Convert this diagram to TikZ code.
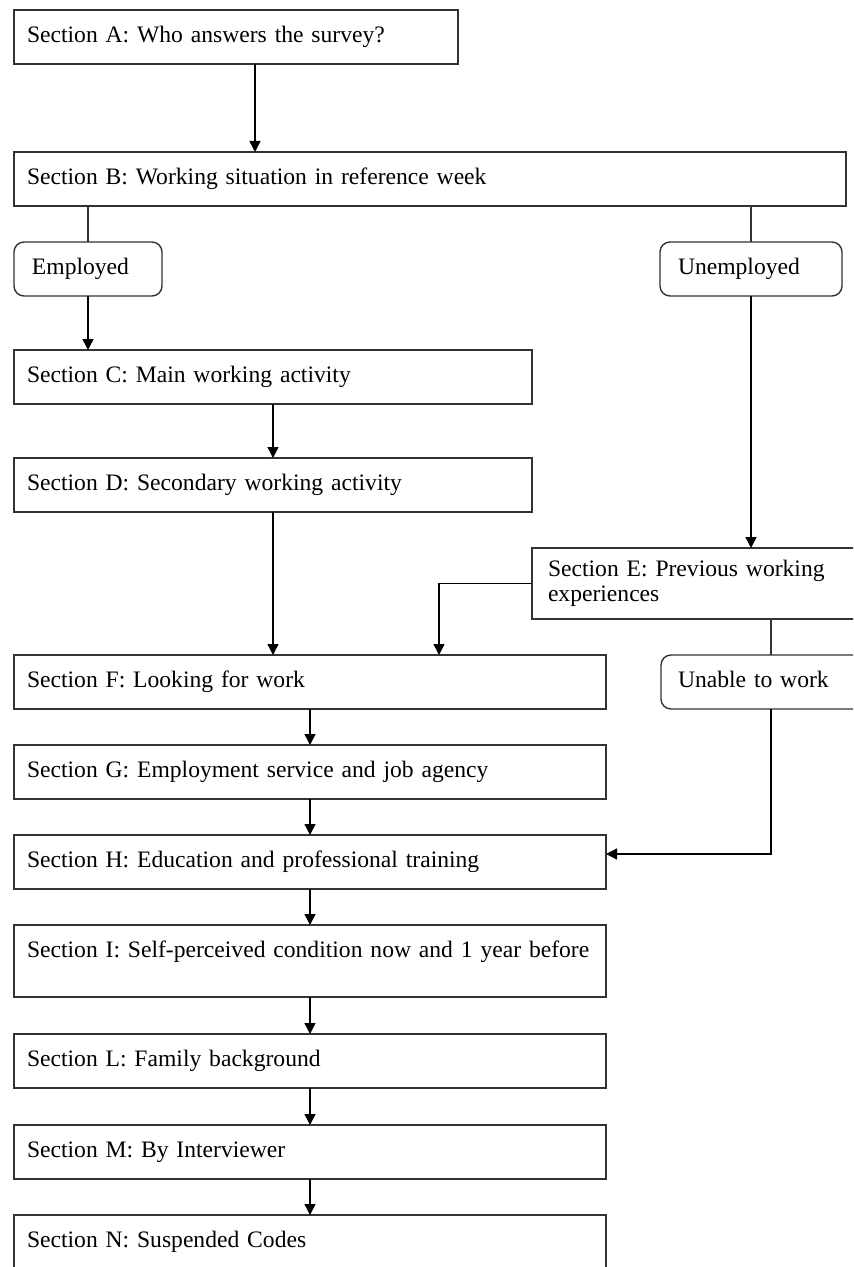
\documentclass[tikz,border=0pt]{standalone}
\usepackage{fontspec}
\setmainfont{Liberation Serif}
\usepackage{tikz}
\usetikzlibrary{arrows.meta,positioning,calc}

\begin{document}
\begin{tikzpicture}[
  node distance=18pt and 27pt,
  box/.style={draw=black!80, line width=0.7pt, align=left, outer sep=0pt,
              font=\fontsize{11.8}{12.5}\selectfont, inner xsep=6.5pt,
              inner ysep=0pt, minimum height=27pt},
  oneline/.style={text height=8.5pt, text depth=3pt},
  choice/.style={box, oneline, rounded corners=5pt, inner xsep=9pt},
  arr/.style={-{Triangle[length=5.5pt, width=5.5pt]}, line width=0.7pt},
  link/.style={line width=0.7pt, draw=black!80}
]
  \clip (0,0) rectangle (426.5pt,-633.5pt);

  \node[box, oneline, anchor=north west, text width=209pt] (secA) at (7pt,-5pt)
    {Section A: Who answers the survey?};
  \node[box, oneline, below=44pt of secA.south west, anchor=north west,
        text width=403pt] (secB)
    {Section B: Working situation in reference week};
  \node[choice, below=18pt of secB.south west, anchor=north west,
        text width=56pt] (employed) {Employed};
  \node[choice, right=249pt of employed, text width=73pt] (unemployed)
    {Unemployed};

  % employed branch
  \node[box, oneline, below=27pt of employed.south west, anchor=north west,
        text width=246pt] (secC) {Section C: Main working activity};
  \node[box, oneline, below=27pt of secC.south west, anchor=north west,
        text width=246pt] (secD) {Section D: Secondary working activity};

  % unemployed branch
  \node[box, below=18pt of secD.south east, anchor=north west, inner xsep=8pt,
        minimum height=35.5pt, text width=160pt] (secE)
    {Section E: Previous working\\experiences};

  \node[box, oneline, below=71.5pt of secD.south west, anchor=north west,
        text width=283pt] (secF) {Section F: Looking for work};
  \node[choice, right=27.5pt of secF, inner xsep=8.5pt, text width=93pt] (unable)
    {Unable to work};

  \node[box, oneline, below=of secF.south west, anchor=north west,
        text width=283pt] (secG) {Section G: Employment service and job agency};
  \node[box, oneline, below=of secG.south west, anchor=north west,
        text width=283pt] (secH) {Section H: Education and professional training};
  \node[box, text height=8.5pt, text depth=12pt, minimum height=36pt,
        below=of secH.south west, anchor=north west, text width=283pt] (secI)
    {\mbox{Section I: Self-perceived condition now and 1 year before}};
  \node[box, oneline, below=18.5pt of secI.south west, anchor=north west,
        text width=283pt] (secL) {Section L: Family background};
  \node[box, oneline, below=18.5pt of secL.south west, anchor=north west,
        text width=283pt] (secM) {Section M: By Interviewer};
  \node[box, oneline, below=of secM.south west, anchor=north west,
        text width=283pt] (secN) {Section N: Suspended Codes};

  \draw[arr] ([xshift=9.5pt]secA.south) -- ([xshift=9.5pt]secA.south |- secB.north);
  \draw[link] (employed.north |- secB.south) -- (employed);
  \draw[link] (unemployed.north |- secB.south) -- (unemployed);
  \draw[arr] (employed) -- (employed |- secC.north);
  \draw[arr] (secC) -- (secD);
  \draw[arr] (secD) -- (secD |- secF.north);
  \draw[arr] (unemployed) -- (unemployed |- secE.north);
  \draw[arr] (secE.west) -| ([xshift=64.5pt]secF.north);
  \draw[link] (unable.north |- secE.south) -- (unable);
  \draw[arr] (unable) |- ([yshift=4pt]secH.east);
  \draw[arr] (secF) -- (secG);
  \draw[arr] (secG) -- (secH);
  \draw[arr] (secH) -- (secI);
  \draw[arr] (secI) -- (secL);
  \draw[arr] (secL) -- (secM);
  \draw[arr] (secM) -- (secN);
\end{tikzpicture}
\end{document}
